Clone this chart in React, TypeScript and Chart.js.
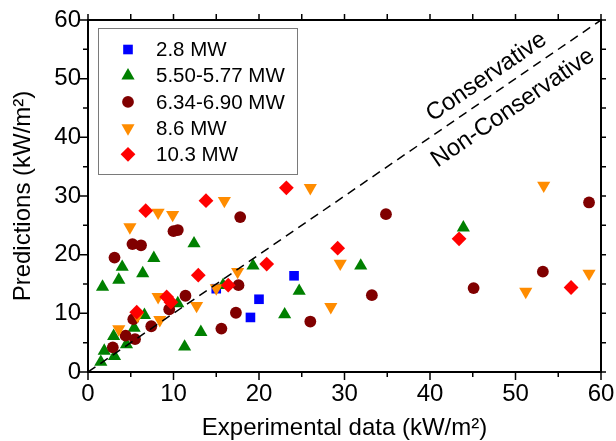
import React, { useEffect, useRef } from 'react';
import { Chart, registerables } from 'chart.js';

Chart.register(...registerables);

const FONT = 'Liberation Sans, Arial, sans-serif';

const seriesNames = ['2.8 MW', '5.50-5.77 MW', '6.34-6.90 MW', '8.6 MW', '10.3 MW'];
const seriesColors = ['#0000FF', '#008000', '#800000', '#FF8C00', '#FF0000'];

const mw28: [number, number][] = [[15.0, 14.2], [19.0, 9.3], [20.0, 12.4], [24.1, 16.4]];
const mw55: [number, number][] = [
  [1.5, 1.7], [1.9, 3.6], [3.0, 6.1], [3.1, 2.7], [4.5, 4.7], [5.4, 7.5], [6.6, 9.7],
  [10.5, 11.7], [11.3, 4.3], [13.2, 6.8], [15.8, 14.8], [19.3, 18.1], [23.0, 9.8],
  [24.7, 13.8], [31.9, 18.1], [43.9, 24.6], [1.7, 14.5], [3.6, 15.7], [4.0, 17.9],
  [6.4, 16.8], [7.7, 19.4], [12.4, 21.9],
];
const mw63: [number, number][] = [
  [2.9, 4.2], [4.4, 6.2], [5.5, 5.6], [5.3, 9.0], [7.4, 7.8], [9.5, 10.7], [11.4, 13.0],
  [3.1, 19.5], [5.2, 21.8], [6.2, 21.6], [10.0, 24.0], [10.5, 24.2], [17.8, 26.4],
  [15.6, 7.4], [17.3, 10.1], [17.6, 14.8], [26.0, 8.6], [33.2, 13.1], [34.85, 26.9],
  [45.1, 14.3], [53.2, 17.1], [58.6, 28.9],
];
const mw86: [number, number][] = [
  [3.6, 7.3], [5.8, 9.6], [8.2, 12.8], [8.4, 8.9], [12.7, 11.3], [15.0, 14.3], [17.5, 17.1],
  [4.9, 24.7], [8.2, 27.2], [9.9, 26.8], [15.95, 29.2], [26.0, 31.4], [28.4, 11.1],
  [29.5, 18.5], [51.2, 13.7], [53.3, 31.8], [58.6, 16.8],
];
const mw103: [number, number][] = [
  [5.7, 10.2], [9.2, 12.8], [9.7, 11.9], [12.9, 16.5], [16.4, 14.8], [20.9, 18.4],
  [6.75, 27.5], [13.8, 29.2], [23.2, 31.4], [29.2, 21.1], [43.4, 22.7], [56.5, 14.4],
];

const diagonal: [number, number][] = [[0, 0], [60, 60]];
const axisMin = 0;
const axisMax = 60;
const majorStep = 10;
const minorStep = 5;

const annotations = [
  { text: 'Conservative', x: 46.6, y: 50.3 },
  { text: 'Non-Conservative', x: 49.7, y: 45.0 },
];

type Marker = { style: string; radius: number; rotation: number };
const markers: Marker[] = [
  { style: 'rect', radius: 6.8, rotation: 0 },
  { style: 'triangle', radius: 7.6, rotation: 0 },
  { style: 'circle', radius: 5.9, rotation: 0 },
  { style: 'triangle', radius: 7.6, rotation: 180 },
  { style: 'rectRot', radius: 7.4, rotation: 0 },
];

function drawMarker(ctx: CanvasRenderingContext2D, m: Marker, x: number, y: number, color: string) {
  ctx.fillStyle = color;
  ctx.beginPath();
  const r = m.radius;
  if (m.style === 'rect') {
    const s = r * Math.SQRT1_2;
    ctx.rect(x - s, y - s, 2 * s, 2 * s);
  } else if (m.style === 'circle') {
    ctx.arc(x, y, r, 0, Math.PI * 2);
  } else if (m.style === 'triangle') {
    let rad = (m.rotation * Math.PI) / 180;
    ctx.moveTo(x + Math.sin(rad) * r, y - Math.cos(rad) * r);
    rad += (2 * Math.PI) / 3;
    ctx.lineTo(x + Math.sin(rad) * r, y - Math.cos(rad) * r);
    rad += (2 * Math.PI) / 3;
    ctx.lineTo(x + Math.sin(rad) * r, y - Math.cos(rad) * r);
  } else {
    ctx.moveTo(x, y - r);
    ctx.lineTo(x + r, y);
    ctx.lineTo(x, y + r);
    ctx.lineTo(x - r, y);
  }
  ctx.closePath();
  ctx.fill();
}

const decorPlugin = {
  id: 'decor',
  afterDraw(chart: any) {
    const ctx: CanvasRenderingContext2D = chart.ctx;
    const { left, right, top, bottom } = chart.chartArea;
    const xs = chart.scales.x;
    const ys = chart.scales.y;
    ctx.save();
    ctx.strokeStyle = '#000';
    ctx.lineWidth = 2;
    ctx.strokeRect(left, top, right - left, bottom - top);
    ctx.lineWidth = 1.5;
    ctx.beginPath();
    for (let v = axisMin; v <= axisMax; v += minorStep) {
      const major = v % majorStep === 0;
      const px = xs.getPixelForValue(v);
      const py = ys.getPixelForValue(v);
      const lb = major ? 8 : 5;
      ctx.moveTo(px, bottom);
      ctx.lineTo(px, bottom + lb);
      ctx.moveTo(px, top);
      ctx.lineTo(px, top - 6);
      ctx.moveTo(left, py);
      ctx.lineTo(left - lb, py);
      ctx.moveTo(right, py);
      ctx.lineTo(right + 5, py);
    }
    ctx.stroke();

    const ang = Math.atan2(
      ys.getPixelForValue(axisMax) - ys.getPixelForValue(axisMin),
      xs.getPixelForValue(axisMax) - xs.getPixelForValue(axisMin)
    );
    ctx.fillStyle = '#000';
    ctx.font = `24px ${FONT}`;
    ctx.textAlign = 'center';
    ctx.textBaseline = 'middle';
    for (const a of annotations) {
      ctx.save();
      ctx.translate(xs.getPixelForValue(a.x), ys.getPixelForValue(a.y));
      ctx.rotate(ang);
      ctx.fillText(a.text, 0, 0);
      ctx.restore();
    }

    const bx = left + 10;
    const by = top + 8;
    const bw = 199;
    const bh = 146;
    ctx.fillStyle = '#fff';
    ctx.fillRect(bx, by, bw, bh);
    ctx.strokeStyle = '#7a7a7a';
    ctx.lineWidth = 1;
    ctx.strokeRect(bx + 0.5, by + 0.5, bw, bh);
    ctx.font = `20.5px ${FONT}`;
    ctx.textAlign = 'left';
    ctx.textBaseline = 'middle';
    seriesNames.forEach((name, i) => {
      const cy = by + 21.5 + i * 26.2;
      drawMarker(ctx, markers[i], bx + 30, cy, seriesColors[i]);
      ctx.fillStyle = '#000';
      ctx.fillText(name, bx + 58, cy + 1);
    });
    ctx.restore();
  },
};

export default function App() {
  const ref = useRef<HTMLCanvasElement | null>(null);
  useEffect(() => {
    document.body.style.margin = '0';
    if (!ref.current) return;
    const seriesData = [mw28, mw55, mw63, mw86, mw103];
    const orders = [5, 4, 3, 2, 1];
    const datasets: any[] = seriesData.map((d, i) => ({
      label: seriesNames[i],
      data: d.map(([x, y]) => ({ x, y })),
      backgroundColor: seriesColors[i],
      borderColor: seriesColors[i],
      borderWidth: 0,
      pointStyle: markers[i].style,
      pointRadius: markers[i].radius,
      pointHoverRadius: markers[i].radius,
      rotation: markers[i].rotation,
      order: orders[i],
      showLine: false,
    }));
    datasets.push({
      label: 'diagonal',
      data: diagonal.map(([x, y]) => ({ x, y })),
      showLine: true,
      borderColor: '#000',
      borderWidth: 1.5,
      borderDash: [9, 6],
      pointRadius: 0,
      fill: false,
      order: 0,
    });
    const tickFont = { family: FONT, size: 24 };
    const fitFix = (s: any) => {
      s.paddingLeft = 0;
      s.paddingRight = 0;
      s.paddingTop = 0;
      s.paddingBottom = 0;
    };
    const chart = new Chart(ref.current, {
      type: 'scatter',
      data: { datasets },
      plugins: [decorPlugin],
      options: {
        animation: false,
        responsive: true,
        maintainAspectRatio: false,
        layout: { padding: { left: 0, right: 15, top: 20, bottom: 0 } },
        plugins: { legend: { display: false }, tooltip: { enabled: false } },
        scales: {
          x: {
            type: 'linear',
            min: axisMin,
            max: axisMax,
            ticks: { stepSize: majorStep, font: tickFont, color: '#000', padding: 8, maxRotation: 0 },
            grid: { display: false, drawTicks: false },
            border: { display: false },
            title: {
              display: true,
              text: 'Experimental data (kW/m²)',
              color: '#000',
              font: { family: FONT, size: 24, lineHeight: 1 },
              padding: { top: 0, bottom: 1 },
            },
            afterFit: (s: any) => {
              fitFix(s);
              s.height = 69;
            },
          },
          y: {
            type: 'linear',
            min: axisMin,
            max: axisMax,
            ticks: { stepSize: majorStep, font: tickFont, color: '#000', padding: 7 },
            grid: { display: false, drawTicks: false },
            border: { display: false },
            title: {
              display: true,
              text: 'Predictions (kW/m²)',
              color: '#000',
              font: { family: FONT, size: 24, lineHeight: 1 },
              padding: { top: 11, bottom: 0 },
            },
            afterFit: (s: any) => {
              fitFix(s);
              s.width = 88;
            },
          },
        },
      } as any,
    });
    return () => chart.destroy();
  }, []);
  return (
    <div style={{ width: 616, height: 441, position: 'relative' }}>
      <canvas ref={ref} />
    </div>
  );
}
